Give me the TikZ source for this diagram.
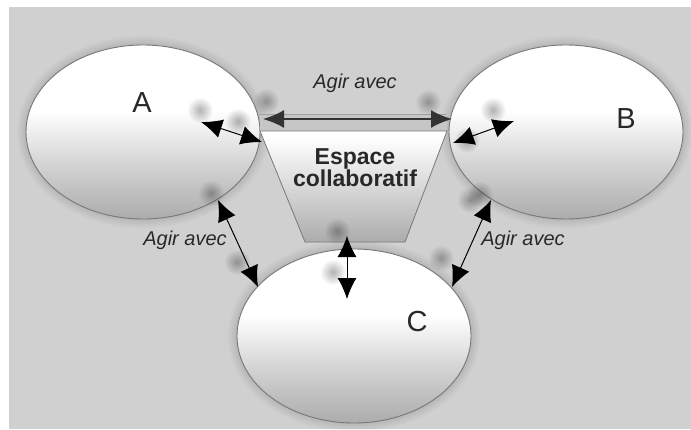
\documentclass[tikz,border=0pt]{standalone}
\usepackage{fontspec}
\setmainfont{Liberation Sans}
\usetikzlibrary{arrows.meta,fadings,shapes.geometric}

\definecolor{bg}{RGB}{208,208,208}
\definecolor{edgec}{RGB}{120,120,120}
\definecolor{ebot}{RGB}{172,172,172}
\definecolor{bandc}{RGB}{198,198,198}
\definecolor{txt}{RGB}{40,40,40}

\pgfdeclareverticalshading{ellshade}{100bp}{color(0bp)=(ebot); color(25bp)=(ebot); color(40bp)=(ebot!55!white); color(56bp)=(white); color(100bp)=(white)}
\pgfdeclareverticalshading{trapshade}{100bp}{color(0bp)=(ebot); color(25bp)=(ebot); color(72bp)=(white); color(100bp)=(white)}
\tikzfading[name=softspot, inner color=transparent!0, outer color=transparent!100]

\tikzset{
  ell/.style={ellipse, draw=edgec, line width=0.9pt, shading=ellshade, inner sep=0pt,
              minimum width=234pt, minimum height=174pt},
  halo/.style={fill=black, opacity=0.025},
  letter/.style={font=\fontsize{29}{29}\selectfont, text=txt, inner sep=0pt},
  agir/.style={font=\fontsize{20}{20}\selectfont\itshape, text=txt, inner sep=0pt},
  link/.style={arrows={Latex[length=21pt,width=19pt]-Latex[length=21pt,width=19pt]}, line width=1pt, black},
  toplink/.style={arrows={Latex[length=21pt,width=18pt]-Latex[length=21pt,width=18pt]}, line width=1.8pt, black!80},
  blob/.style={fill=black, opacity=0.3, path fading=softspot},
}

\begin{document}
\begin{tikzpicture}[x=1pt,y=-1pt]
\useasboundingbox (0,0) rectangle (691,429);
\fill[white] (0,0) rectangle (691,429);
\fill[bg] (9,7) rectangle (691,429);

% halos around the ellipses
\foreach \cx/\cy in {143/132, 566/132, 354/336}{
  \foreach \d in {9,7,5,3,1.5}{
    \fill[halo] (\cx,\cy) ellipse [x radius={117pt+\d pt}, y radius={87pt+\d pt}];
  }
}

% ellipses
\node[ell] (A) at (143,132) {};
\node[ell] (B) at (566,132) {};
\node[ell] (C) at (354,336) {};

% band and trapezoid (collaborative space)
\fill[bandc] (260,114) rectangle (447,131);
\draw[edgec!70, line width=0.6pt] (260,114) -- (447,114);
\draw[edgec, line width=0.8pt, shading=trapshade]
  (260,131) -- (447,131) -- (405,242) -- (305,242) -- cycle;

% soft shadow spots
\foreach \px/\py in {200/110, 238/121, 266/101, 428/102, 493/110, 467/140,
                     337/231, 480/194, 211/193, 237/262, 470/200, 441/258, 333/272}{
  \fill[blob] (\px,\py) circle [radius=13pt];
}

% texts
\node[letter] (tA) at (142,103) {A};
\node[letter] (tB) at (626,119) {B};
\node[letter] (tC) at (417,322) {C};
\node[font=\fontsize{23}{22}\selectfont\bfseries, text=txt, align=center, inner sep=0pt]
  (esp) at (355,168) {Espace\\collaboratif};
\node[agir] (g1) at (355,83) {Agir avec};
\node[agir] (g2) at (185,240) {Agir avec};
\node[agir] (g3) at (523,240) {Agir avec};

% connector end points
\coordinate (tl) at (263,119);
\coordinate (tr) at (452,119);
\coordinate (a1) at (201,122);
\coordinate (a2) at (262,142);
\coordinate (b1) at (453,143);
\coordinate (b2) at (514,121);
\coordinate (ac1) at (218,200);
\coordinate (ac2) at (258,287);
\coordinate (bc1) at (491,200);
\coordinate (bc2) at (452,287);
\coordinate (tc1) at (347,236);
\coordinate (tc2) at (347,299);

% connectors
\draw[toplink] (tl) -- (tr);
\draw[link] (a1) -- (a2);
\draw[link] (b1) -- (b2);
\draw[link] (ac1) -- (ac2);
\draw[link] (bc1) -- (bc2);
\draw[link] (tc1) -- (tc2);
\end{tikzpicture}
\end{document}
